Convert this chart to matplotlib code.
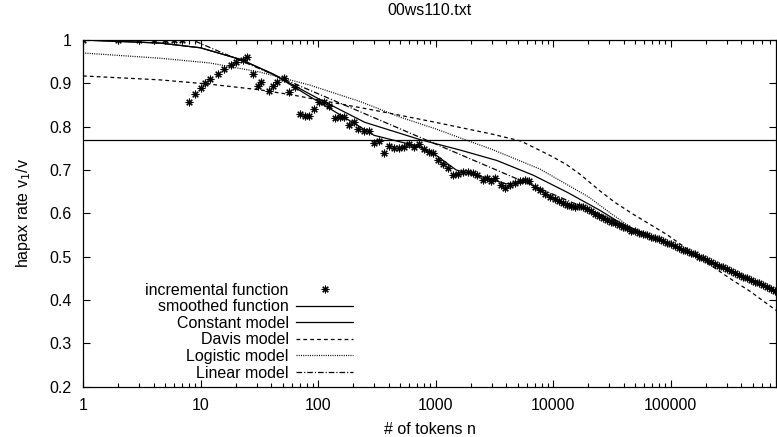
import numpy as np
import matplotlib.pyplot as plt
from matplotlib.ticker import LogLocator, FixedLocator, NullFormatter

plt.rcParams['font.family'] = ['Liberation Sans', 'DejaVu Sans']
FS = 11.5

# incremental function (stars): tokens n, hapax rate v1/v
inc_n = [1, 2, 3, 4, 5, 6, 7, 8, 9, 10, 11, 12, 14, 16, 18, 20, 23, 25, 28, 31,
         33, 38, 41, 45, 51, 57, 64, 70, 78, 84, 92, 102, 112, 124, 139, 154, 166,
         183, 201, 221, 246, 272, 300, 331, 364, 402, 443, 489, 539, 595, 656, 724,
         798, 881, 952, 1050, 1158, 1277, 1409, 1554, 1714, 1890, 2084, 2255, 2535,
         2742, 2966, 3208, 3608, 3902, 4305, 4749, 5237, 5778, 6250, 7029, 7752,
         8551, 9430, 10400, 11250, 12170, 13150, 14220, 15390, 16640, 17990, 19450,
         21040, 22750, 24600, 26660, 28840, 31190, 33730, 36480, 39450, 42660,
         46130, 49890, 53950, 58340, 63100, 68230, 73790, 79800, 86300, 93330,
         100900, 109200, 118000, 127700, 138100, 149300, 161800, 175000, 189200,
         204600, 221300, 239300, 258800, 279900, 302700, 327300, 354000, 382800,
         414000, 447700, 484200, 523600, 566200, 612300, 662200, 716100, 774400]
inc_v = [1.0, 1.0, 1.0, 1.0, 1.0, 1.0, 1.0, 0.857, 0.875, 0.889, 0.900, 0.909,
         0.921, 0.933, 0.942, 0.949, 0.954, 0.961, 0.921, 0.894, 0.903, 0.882,
         0.894, 0.903, 0.912, 0.880, 0.891, 0.829, 0.824, 0.824, 0.841, 0.857,
         0.857, 0.848, 0.820, 0.822, 0.822, 0.804, 0.811, 0.794, 0.790, 0.790,
         0.762, 0.767, 0.739, 0.755, 0.751, 0.751, 0.753, 0.760, 0.753, 0.760,
         0.748, 0.741, 0.739, 0.723, 0.714, 0.704, 0.688, 0.691, 0.695, 0.695,
         0.693, 0.688, 0.677, 0.681, 0.674, 0.681, 0.665, 0.658, 0.665, 0.670,
         0.674, 0.677, 0.674, 0.661, 0.654, 0.644, 0.637, 0.633, 0.628, 0.624,
         0.619, 0.617, 0.614, 0.617, 0.614, 0.611, 0.606, 0.599, 0.594, 0.590,
         0.584, 0.580, 0.577, 0.572, 0.569, 0.565, 0.560, 0.558, 0.555, 0.552,
         0.549, 0.546, 0.543, 0.540, 0.536, 0.532, 0.528, 0.525, 0.521, 0.516,
         0.512, 0.509, 0.505, 0.500, 0.496, 0.492, 0.487, 0.483, 0.479, 0.475,
         0.471, 0.467, 0.462, 0.458, 0.454, 0.450, 0.446, 0.442, 0.438, 0.434,
         0.430, 0.426, 0.421]

# smoothed function (mostly hidden under the stars)
smooth_n = [1, 4.5, 10, 22, 41, 100, 300, 700, 1000, 1500, 2500, 4000, 6000,
            8000, 10000, 15000, 20000, 40000, 100000, 300000, 790000]
smooth_v = [1.0, 0.993, 0.982, 0.955, 0.922, 0.858, 0.780, 0.755, 0.735, 0.700,
            0.684, 0.668, 0.672, 0.652, 0.635, 0.617, 0.610, 0.568, 0.528, 0.470,
            0.420]

# model curves
const_n = [1, 4.5, 10, 22, 41, 100, 250, 741, 1620, 3320, 6780, 13100, 25000,
           40000, 100000, 300000, 790000]
const_v = [1.0, 0.993, 0.982, 0.955, 0.922, 0.865, 0.810, 0.770, 0.746, 0.722,
           0.688, 0.649, 0.607, 0.573, 0.529, 0.470, 0.419]

davis_n = [1, 4.5, 12, 32, 61, 100, 300, 1000, 3000, 5300, 7750, 10000, 13100,
           17000, 25000, 33700, 48000, 93000, 178000, 340000, 475000, 790000]
davis_v = [0.917, 0.908, 0.898, 0.885, 0.873, 0.862, 0.838, 0.810, 0.783, 0.767,
           0.745, 0.730, 0.712, 0.690, 0.652, 0.625, 0.598, 0.551, 0.497, 0.445,
           0.420, 0.376]

logis_n = [1, 4.5, 12, 32, 85, 228, 500, 1000, 2000, 3000, 7750, 20000, 31000,
           50000, 100000, 300000, 790000]
logis_v = [0.970, 0.958, 0.947, 0.926, 0.896, 0.858, 0.822, 0.795, 0.765, 0.748,
           0.702, 0.638, 0.600, 0.560, 0.527, 0.468, 0.418]

linear_n = [1, 10, 100, 1000, 10000, 100000, 790000]
linear_v = [1.108, 0.992, 0.876, 0.760, 0.644, 0.528, 0.424]

reference_rate = 0.769

fig = plt.figure(figsize=(7.77, 4.37), dpi=100)
ax = fig.add_axes([83 / 777, 50.4 / 437, 693 / 777, 346.6 / 437])

ax.axhline(reference_rate, color='black', lw=0.9)
ax.plot(inc_n, inc_v, ls='none', marker=(8, 2, 0), ms=5.5, mew=0.8, color='black',
        label='incremental function')
ax.plot(smooth_n, smooth_v, color='black', lw=0.9, label='smoothed function')
ax.plot(const_n, const_v, color='black', lw=0.9, label='Constant model')
ax.plot(davis_n, davis_v, color='black', lw=0.9, dashes=(3, 2.5), label='Davis model')
ax.plot(logis_n, logis_v, color='black', lw=0.9, dashes=(0.8, 1.0), label='Logistic model')
ax.plot(linear_n, linear_v, color='black', lw=0.9, dashes=(4.5, 1.6, 0.9, 1.6),
        label='Linear model')

ax.set_xscale('log')
ax.set_xlim(1, 790000)
ax.set_ylim(0.2, 1.0)
ax.xaxis.set_minor_locator(LogLocator(base=10, subs=np.arange(2, 10), numticks=20))
ax.xaxis.set_minor_formatter(NullFormatter())
ax.set_xticks([1, 10, 100, 1000, 10000, 100000])
ax.set_xticklabels(['1', '10', '100', '1000', '10000', '100000'])
ax.yaxis.set_major_locator(FixedLocator(np.arange(0.2, 1.01, 0.1)))
ax.set_yticklabels(['0.2', '0.3', '0.4', '0.5', '0.6', '0.7', '0.8', '0.9', '1'])

ax.tick_params(which='both', direction='in', top=True, right=True, labelsize=FS,
               width=0.8)
ax.tick_params(which='major', length=5)
ax.tick_params(which='minor', length=3)
ax.tick_params(axis='y', pad=8)
ax.tick_params(axis='x', pad=8)
for s in ax.spines.values():
    s.set_linewidth(0.9)

ax.set_title('00ws110.txt', fontsize=FS, pad=18)
ax.set_xlabel('# of tokens n', fontsize=FS, labelpad=7)
ax.set_ylabel('hapax rate v$_1$/v', fontsize=FS, labelpad=12)

ax.legend(loc='upper right', bbox_to_anchor=(0.39, 0.30), frameon=False,
          markerfirst=False, fontsize=FS, handlelength=3.6, handletextpad=0.45,
          labelspacing=0.1, borderpad=0, borderaxespad=0, numpoints=1)

fig.savefig('out.png', dpi=100)
